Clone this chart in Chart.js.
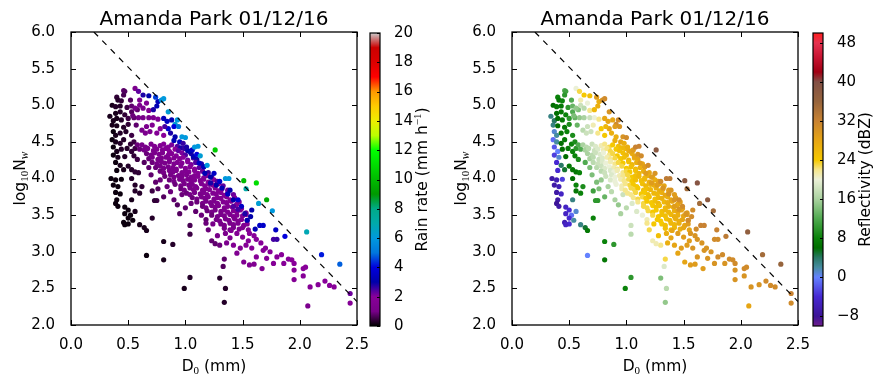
<!DOCTYPE html>
<html>
<head>
<meta charset="utf-8">
<script src="https://cdn.jsdelivr.net/npm/chart.js@4.4.1/dist/chart.umd.min.js"></script>
<style>
  html, body { margin: 0; padding: 0; background: #fff; }
  #wrap { position: relative; width: 886px; height: 386px; overflow: hidden; }
  canvas { position: absolute; top: 0; }
</style>
</head>
<body>
<div id="wrap">
  <canvas id="rainScatter" width="380" height="386" style="left:0px"></canvas>
  <canvas id="rainBar" width="83" height="386" style="left:360px"></canvas>
  <canvas id="dbzScatter" width="380" height="386" style="left:441px"></canvas>
  <canvas id="dbzBar" width="83" height="386" style="left:803px"></canvas>
</div>
<script>
// DSD samples: median drop diameter D0 (mm), log10 Nw, rain rate (mm/h), reflectivity (dBZ)
// groups: left cluster, isolated low points, below core, dense core (rows), upper band, tail, upper edge
const d0 = [
  0.46,0.47,0.46,0.40,0.41,0.44,0.52,0.36,0.39,0.43,
  0.49,0.53,0.34,0.39,0.43,0.47,0.53,0.58,0.37,0.40,
  0.44,0.50,0.55,0.36,0.40,0.46,0.50,0.37,0.39,0.43,
  0.48,0.53,0.36,0.39,0.43,0.46,0.52,0.55,0.37,0.40,
  0.44,0.49,0.53,0.56,0.37,0.41,0.47,0.55,0.58,0.39,
  0.43,0.50,0.40,0.46,0.53,0.56,0.59,0.35,0.39,0.44,
  0.53,0.37,0.41,0.56,0.62,0.39,0.43,0.56,0.60,0.71,
  0.40,0.39,0.53,0.41,0.47,0.50,0.47,0.52,0.56,0.50,
  0.46,0.50,0.54,0.47,0.60,0.64,0.66,0.71,0.75,0.73,
  0.99,1.04,1.34,1.35,1.30,0.66,0.81,0.81,0.89,2.07,1.33,1.34,1.04,1.04,
  0.78,0.84,0.81,0.90,0.97,0.87,0.93,1.00,1.05,1.09,
  1.14,1.18,0.74,0.70,0.68,0.64,0.60,0.58,0.76,0.95,
  0.62,0.65,0.70,0.73,0.78,0.81,0.85,0.88,0.93,0.96,
  0.64,0.67,0.72,0.75,0.80,0.83,0.86,0.91,0.94,0.99,1.02,
  0.66,0.70,0.73,0.77,0.80,0.85,0.88,0.92,0.97,1.00,1.05,
  0.68,0.71,0.76,0.79,0.83,0.86,0.90,0.95,0.98,1.02,1.07,1.10,
  0.71,0.75,0.79,0.82,0.86,0.90,0.93,0.97,1.02,1.05,1.09,1.14,
  0.74,0.78,0.81,0.85,0.89,0.92,0.96,1.00,1.04,1.08,1.12,1.16,
  0.78,0.81,0.86,0.89,0.92,0.97,1.00,1.03,1.08,1.11,1.15,1.20,
  0.82,0.87,0.90,0.94,0.97,1.01,1.05,1.08,1.11,1.16,1.19,1.23,
  0.86,0.90,0.95,0.98,1.02,1.05,1.08,1.13,1.16,1.20,1.25,1.28,
  0.91,0.96,0.99,1.03,1.06,1.09,1.14,1.17,1.21,1.24,1.29,1.33,
  0.96,0.99,1.04,1.07,1.10,1.15,1.18,1.21,1.26,1.29,1.32,1.37,
  1.01,1.04,1.08,1.13,1.16,1.19,1.24,1.27,1.31,1.34,1.37,1.42,
  1.06,1.10,1.14,1.17,1.20,1.25,1.28,1.31,1.36,1.39,1.43,
  1.10,1.15,1.18,1.22,1.25,1.28,1.33,1.36,1.40,1.45,1.47,
  1.15,1.18,1.23,1.26,1.29,1.34,1.37,1.41,1.44,1.49,
  1.19,1.23,1.26,1.31,1.34,1.37,1.42,1.45,1.48,1.53,
  1.23,1.28,1.31,1.34,1.39,1.42,1.45,1.50,1.53,
  1.27,1.30,1.35,1.38,1.43,1.46,1.49,1.54,
  1.31,1.34,1.39,1.42,1.46,1.51,1.54,
  1.34,1.39,1.42,1.47,1.50,1.55,
  0.56,0.59,0.63,0.68,0.60,0.60,0.66,0.63,0.68,0.56,
  0.59,0.63,0.68,0.72,0.76,0.72,0.75,0.76,0.74,0.79,
  0.81,0.85,0.81,0.84,0.88,0.93,0.91,0.90,0.94,0.85,
  0.82,0.78,0.71,0.66,0.62,0.65,0.69,0.75,0.81,0.87,
  0.91,0.97,1.00,0.95,0.90,0.54,0.57,
  1.51,1.60,1.56,1.67,1.62,1.58,1.53,1.48,1.45,1.42,
  1.39,1.36,1.30,1.26,1.23,1.62,1.70,1.74,1.71,1.68,
  1.77,1.80,1.84,1.86,1.90,1.93,1.95,1.95,1.95,2.03,
  2.03,2.05,2.09,2.16,2.22,2.26,2.30,2.44,2.44,1.55,
  1.50,1.45,1.56,1.60,1.66,1.40,1.35,1.28,1.20,1.18,
  1.24,
  1.01,1.04,1.07,1.06,1.10,1.08,1.11,1.13,1.12,1.16,
  1.19,1.17,1.22,1.25,1.26,1.22,1.27,1.32,1.30,1.35,
  1.38,1.37,1.39,1.42,1.46,1.49,1.51,1.53,1.62,1.71,
  1.64,1.76,1.54,1.52,1.57,1.61,1.65,1.68,1.79,1.87,
  1.77,1.80,2.06,2.19,2.35,1.46,1.42,1.58,0.98
];
const logNw = [
  5.20,5.19,5.14,5.11,5.07,5.06,5.07,5.00,4.98,4.99,
  4.97,4.99,4.85,4.89,4.91,4.87,4.91,4.94,4.79,4.82,
  4.80,4.82,4.83,4.73,4.72,4.70,4.74,4.64,4.59,4.62,
  4.64,4.59,4.53,4.50,4.48,4.53,4.47,4.50,4.43,4.37,
  4.40,4.41,4.37,4.41,4.32,4.29,4.30,4.31,4.26,4.22,
  4.18,4.17,4.11,4.12,4.12,4.09,4.08,4.00,3.98,3.99,
  4.00,3.91,3.89,3.91,3.89,3.81,3.79,3.83,3.80,3.83,
  3.71,3.66,3.71,3.62,3.61,3.57,3.52,3.50,3.55,3.46,
  3.40,3.38,3.43,3.37,3.37,3.33,3.29,3.46,3.70,3.70,
  2.50,2.65,2.31,2.50,2.64,2.95,2.89,3.14,3.10,2.26,2.80,2.90,3.36,3.24,
  3.98,3.89,3.75,3.71,3.78,3.82,3.64,3.60,3.66,3.55,
  3.50,3.44,3.95,4.05,4.15,4.22,4.40,4.46,3.86,3.52,
  4.46,4.43,4.47,4.44,4.45,4.47,4.43,4.46,4.44,4.42,
  4.39,4.41,4.38,4.40,4.39,4.41,4.37,4.40,4.38,4.41,4.38,
  4.34,4.32,4.35,4.33,4.35,4.32,4.34,4.31,4.35,4.32,4.34,
  4.27,4.29,4.26,4.28,4.29,4.26,4.28,4.27,4.29,4.25,4.28,4.26,
  4.22,4.20,4.23,4.21,4.23,4.20,4.22,4.21,4.23,4.19,4.22,4.20,
  4.15,4.17,4.14,4.16,4.15,4.13,4.17,4.14,4.16,4.13,4.15,4.16,
  4.10,4.08,4.11,4.09,4.11,4.08,4.10,4.09,4.11,4.07,4.10,4.08,
  4.03,4.05,4.02,4.04,4.03,4.05,4.02,4.04,4.03,4.01,4.04,4.02,
  3.98,3.96,3.99,3.97,3.99,3.96,3.98,3.97,3.99,3.95,3.98,3.96,
  3.92,3.90,3.93,3.91,3.92,3.89,3.93,3.90,3.92,3.91,3.93,3.90,
  3.86,3.84,3.87,3.85,3.87,3.84,3.86,3.85,3.87,3.83,3.86,3.84,
  3.80,3.78,3.81,3.79,3.81,3.78,3.80,3.79,3.81,3.77,3.80,3.78,
  3.74,3.72,3.75,3.73,3.75,3.72,3.74,3.73,3.75,3.71,3.74,
  3.68,3.66,3.69,3.67,3.69,3.66,3.68,3.67,3.69,3.65,3.68,
  3.62,3.60,3.63,3.61,3.63,3.60,3.62,3.61,3.63,3.59,
  3.56,3.54,3.57,3.55,3.57,3.54,3.56,3.55,3.57,3.53,
  3.50,3.48,3.51,3.49,3.51,3.48,3.50,3.49,3.51,
  3.44,3.42,3.45,3.43,3.45,3.42,3.44,3.43,
  3.38,3.36,3.39,3.37,3.39,3.36,3.38,
  3.32,3.30,3.33,3.31,3.33,3.30,
  5.23,5.19,5.14,5.13,5.07,5.00,5.03,4.96,4.93,4.96,
  4.83,4.83,4.83,4.83,4.81,4.94,4.99,5.05,5.11,5.07,
  5.09,4.91,4.82,4.78,4.80,4.80,4.74,4.71,4.71,4.68,
  4.71,4.68,4.73,4.71,4.66,4.62,4.64,4.62,4.59,4.62,
  4.57,4.57,4.56,4.50,4.52,4.86,4.73,
  2.86,2.83,2.82,2.77,2.93,3.05,3.09,3.05,2.98,3.09,
  3.19,3.12,3.09,3.11,3.15,3.17,3.05,3.00,2.91,3.02,
  2.84,2.93,2.96,2.84,2.90,2.89,2.84,2.75,2.62,2.67,
  2.77,2.79,2.52,2.55,2.60,2.54,2.52,2.43,2.30,3.15,
  3.20,3.25,3.25,3.22,3.12,3.29,3.25,3.22,3.30,3.39,
  3.38,
  4.43,4.37,4.30,4.39,4.33,4.43,4.44,4.31,4.21,4.16,
  4.18,4.07,4.02,4.07,4.39,3.94,3.91,3.87,3.96,4.00,
  4.00,3.79,3.84,3.71,3.71,3.62,3.97,3.86,3.94,3.71,
  3.66,3.56,3.43,3.52,3.48,3.31,3.36,3.36,3.30,3.21,
  3.17,3.17,3.27,2.96,2.83,3.58,3.62,3.57,4.48
];
const rainRate = [
  0.8,0.7,0.6,0.4,0.3,0.4,0.7,0.2,0.3,0.3,
  0.5,0.8,0.2,0.2,0.3,0.4,0.7,0.8,0.2,0.2,
  0.3,0.5,0.8,0.2,0.2,0.3,0.4,0.1,0.2,0.3,
  0.3,0.5,0.1,0.2,0.3,0.3,0.4,0.5,0.1,0.2,
  0.3,0.3,0.4,0.5,0.1,0.2,0.3,0.4,0.5,0.1,
  0.2,0.3,0.1,0.2,0.3,0.4,0.4,0.1,0.1,0.1,
  0.3,0.1,0.1,0.3,0.4,0.1,0.1,0.3,0.3,0.5,
  0.1,0.1,0.2,0.1,0.1,0.1,0.1,0.1,0.2,0.1,
  0.1,0.1,0.1,0.1,0.2,0.2,0.2,0.3,0.5,0.4,
  0.2,0.3,0.3,0.3,0.3,0.1,0.2,0.2,0.3,1.3,0.7,0.8,0.6,0.5,
  0.9,0.9,0.7,0.8,0.9,0.9,0.7,0.8,0.9,0.8,
  0.9,0.8,0.8,0.8,0.8,0.7,0.9,0.9,0.7,0.7,
  1.1,1.2,1.3,1.5,1.6,1.8,1.9,2.1,2.4,2.8,
  1.0,1.1,1.2,1.4,1.5,1.7,1.8,2.0,2.3,2.6,3.0,
  0.9,1.0,1.2,1.3,1.4,1.6,1.7,1.9,2.1,2.4,2.8,
  0.9,1.0,1.1,1.2,1.4,1.5,1.6,1.8,2.0,2.2,2.5,2.9,
  0.9,1.0,1.1,1.2,1.3,1.4,1.6,1.7,1.9,2.1,2.4,2.8,
  0.9,1.0,1.1,1.2,1.3,1.4,1.5,1.7,1.8,2.0,2.3,2.7,
  0.9,1.0,1.1,1.2,1.3,1.4,1.5,1.6,1.8,1.9,2.2,2.6,
  0.9,1.0,1.1,1.2,1.3,1.4,1.5,1.6,1.7,1.9,2.1,2.5,
  0.9,1.0,1.1,1.2,1.3,1.4,1.5,1.6,1.7,1.8,2.0,2.4,
  0.9,1.0,1.1,1.2,1.3,1.4,1.5,1.6,1.7,1.8,2.0,2.3,
  0.9,1.0,1.1,1.2,1.3,1.4,1.5,1.6,1.7,1.8,2.0,2.2,
  0.9,1.0,1.1,1.2,1.3,1.4,1.5,1.6,1.7,1.8,2.0,2.2,
  0.9,1.0,1.1,1.2,1.3,1.4,1.5,1.6,1.7,1.9,2.1,
  0.9,1.0,1.1,1.2,1.3,1.4,1.5,1.6,1.7,1.9,2.1,
  0.9,1.0,1.1,1.3,1.4,1.5,1.6,1.7,1.8,2.0,
  0.9,1.0,1.1,1.2,1.4,1.5,1.6,1.7,1.8,2.0,
  0.9,1.0,1.2,1.3,1.4,1.5,1.6,1.7,1.9,
  1.0,1.1,1.2,1.3,1.4,1.5,1.6,1.8,
  1.0,1.1,1.2,1.3,1.4,1.5,1.7,
  1.0,1.1,1.2,1.4,1.5,1.6,
  1.3,2.3,2.8,3.0,1.5,1.4,1.6,1.3,1.6,1.0,
  1.0,1.1,1.3,1.5,1.7,2.8,3.2,3.3,4.5,5.8,
  6.0,6.2,3.3,3.5,3.2,6.0,6.2,4.0,5.0,3.8,
  2.5,2.0,1.6,1.3,1.2,1.3,1.4,1.7,2.0,2.8,
  3.0,6.0,6.0,3.5,3.2,0.9,0.8,
  1.5,1.6,1.5,1.6,1.8,1.9,1.8,1.6,1.5,1.6,
  1.5,1.3,0.9,0.8,0.8,2.0,1.9,1.9,1.8,1.9,
  1.8,2.0,2.0,1.9,2.0,2.0,2.0,1.9,1.7,1.9,
  2.0,2.0,1.8,1.9,2.0,2.0,2.0,2.2,1.8,1.8,
  1.7,1.7,2.0,2.0,1.9,1.5,1.3,1.0,0.9,0.9,
  1.0,
  2.8,3.0,3.2,3.5,4.0,6.0,6.0,6.2,3.5,3.3,
  6.0,3.2,3.0,3.5,10.5,2.8,3.0,3.2,3.6,6.0,
  6.0,3.4,3.0,3.0,3.8,3.5,10.0,7.0,11.0,9.5,
  6.2,6.0,3.2,2.8,3.0,3.2,3.5,3.6,3.5,4.0,
  2.5,2.6,6.8,4.2,4.8,2.5,2.4,3.0,2.6
];
const reflectivity = [
  12,11,10,8,7,8,12,6,7,7,
  10,13,3,6,7,8,12,14,4,6,
  7,10,13,3,6,7,9,1,2,7,
  8,9,-1,2,6,7,8,9,-2,0,
  6,7,8,10,-3,1,6,8,9,-4,
  4,7,-4,5,7,7,8,-7,-6,-3,
  6,-7,-6,8,9,-7,-5,7,8,11,
  -7,-8,3,-7,-5,-4,-5,-1,1,-4,
  -6,-4,2,-5,3,5,7,8,10,10,
  8,10,15,17,14,0,7,8,10,28,19,23,18,17,
  15,16,13,16,18,17,15,17,19,19,
  20,21,14,14,14,12,12,12,14,16,
  16,17,18,19,21,22,23,24,25,26,
  16,17,18,19,21,22,23,24,25,26,27,
  16,17,18,19,20,22,23,24,25,26,27,
  16,17,18,19,21,22,23,24,25,26,27,28,
  17,18,19,20,21,22,23,24,25,26,27,28,
  17,18,19,20,21,22,23,24,25,26,27,28,
  17,18,19,20,21,22,23,24,25,26,27,28,
  18,19,20,21,22,23,24,25,26,26,27,28,
  19,20,21,22,23,24,25,25,26,27,27,28,
  20,21,22,23,24,24,25,26,26,27,28,28,
  21,22,23,23,24,25,25,26,27,27,28,29,
  22,22,23,24,24,25,26,26,27,28,28,29,
  22,23,23,24,25,25,26,27,27,28,29,
  22,23,24,24,25,26,26,27,28,28,29,
  23,23,24,25,25,26,27,27,28,29,
  23,24,24,25,26,26,27,28,28,29,
  23,24,25,25,26,27,27,28,29,
  24,24,25,26,27,27,28,29,
  24,25,26,26,27,28,29,
  25,25,26,27,28,28,
  20,23,24,25,21,18,20,17,22,15,
  15,16,18,20,22,26,27,27,29,30,
  31,30,28,28,28,31,31,29,30,28,
  26,24,21,18,17,18,18,22,24,27,
  27,30,31,28,27,14,13,
  28,29,29,29,30,30,29,29,28,28,
  28,27,22,21,21,30,30,30,30,30,
  30,31,31,30,31,31,31,30,30,30,
  31,31,30,30,31,31,31,32,31,29,
  29,29,30,30,30,28,27,25,23,22,
  24,
  27,28,28,29,30,32,32,31,29,29,
  31,29,29,30,38,29,29,30,31,33,
  33,30,30,30,31,31,38,35,39,38,
  35,35,31,30,31,31,32,32,32,33,
  31,31,37,35,36,30,29,31,27
];

// dashed reference line
const lineD0 = [0.2, 2.5];
const lineNw = [6.0, 2.32];

// colour bar ticks
const rainTicks = [0, 2, 4, 6, 8, 10, 12, 14, 16, 18, 20];
const dbzTicks = [-8, 0, 8, 16, 24, 32, 40, 48];

// colormaps: [value, r, g, b]
const rainCmap = [
  [0, 0, 0, 0], [1, 119, 0, 136], [2, 136, 0, 153], [3, 0, 0, 170], [4, 0, 0, 221],
  [5, 0, 119, 221], [6, 0, 153, 221], [7, 0, 170, 170], [8, 0, 170, 136], [9, 0, 153, 0],
  [10, 0, 187, 0], [11, 0, 221, 0], [12, 0, 255, 0], [13, 187, 255, 0], [14, 238, 238, 0],
  [15, 255, 204, 0], [16, 255, 153, 0], [17, 255, 0, 0], [18, 221, 0, 0], [19, 204, 0, 0],
  [20, 204, 204, 204]
];
const dbzCmap = [
  [-10, 110, 30, 140], [-8, 60, 20, 150], [-4, 70, 40, 210], [0, 100, 130, 255],
  [2, 70, 140, 160], [4, 40, 120, 100], [6, 0, 110, 0], [8, 10, 130, 10],
  [12, 80, 170, 80], [16, 170, 210, 160], [20, 235, 240, 215], [22, 245, 230, 140],
  [24, 245, 200, 0], [28, 230, 165, 20], [32, 200, 130, 50], [36, 150, 100, 60],
  [40, 130, 80, 70], [42, 160, 0, 20], [45, 200, 20, 50], [48, 230, 50, 80], [50, 255, 30, 30]
];

function cmapColor(stops, v) {
  if (v <= stops[0][0]) return 'rgb(' + stops[0].slice(1).join(',') + ')';
  for (let i = 1; i < stops.length; i++) {
    if (v <= stops[i][0]) {
      const a = stops[i - 1], b = stops[i];
      const f = (v - a[0]) / (b[0] - a[0]);
      const c = [1, 2, 3].map(k => Math.round(a[k] + f * (b[k] - a[k])));
      return 'rgb(' + c.join(',') + ')';
    }
  }
  return 'rgb(' + stops[stops.length - 1].slice(1).join(',') + ')';
}

Chart.defaults.font.family = '"DejaVu Sans", sans-serif';
Chart.defaults.color = '#000';

const tickFont = { size: 15, family: '"DejaVu Sans", sans-serif' };

// draw text made of pieces of different size / offset (sub- and superscripts)
function drawRich(ctx, parts, x, y) {
  let w = 0;
  parts.forEach(p => { ctx.font = p.font; w += ctx.measureText(p.t).width; });
  let cx = x - w / 2;
  parts.forEach(p => {
    ctx.font = p.font;
    ctx.fillText(p.t, cx, y + (p.dy || 0));
    cx += ctx.measureText(p.t).width;
  });
}

const SANS = '15.5px "DejaVu Sans"';
const SUB = '11px "Liberation Serif"';
const SUBI = 'italic 11.5px "Liberation Serif"';

const panelFrame = {
  id: 'panelFrame',
  afterDatasetsDraw(chart) {
    const { ctx, chartArea: a, scales: { x, y } } = chart;
    ctx.save();
    ctx.strokeStyle = '#000';
    ctx.lineWidth = 1;
    ctx.beginPath();
    x.ticks.forEach(t => {
      const px = Math.round(x.getPixelForValue(t.value)) + 0.5;
      ctx.moveTo(px, a.bottom); ctx.lineTo(px, a.bottom - 5);
      ctx.moveTo(px, a.top); ctx.lineTo(px, a.top + 5);
    });
    y.ticks.forEach(t => {
      const py = Math.round(y.getPixelForValue(t.value)) + 0.5;
      ctx.moveTo(a.left, py); ctx.lineTo(a.left + 5, py);
      ctx.moveTo(a.right, py); ctx.lineTo(a.right - 5, py);
    });
    ctx.stroke();
    ctx.lineWidth = 1.3;
    ctx.strokeRect(a.left, a.top, a.right - a.left, a.bottom - a.top);
    ctx.restore();
  },
  afterDraw(chart, args, opts) {
    const { ctx, chartArea: a } = chart;
    const cx = (a.left + a.right) / 2;
    ctx.save();
    ctx.fillStyle = '#000';
    ctx.textBaseline = 'alphabetic';
    ctx.textAlign = 'left';
    drawRich(ctx, [{ t: opts.title, font: '20px "DejaVu Sans"' }], cx, 25);
    drawRich(ctx, [
      { t: 'D', font: SANS }, { t: '0', font: SUB, dy: 3 }, { t: ' (mm)', font: SANS }
    ], cx, 371);
    ctx.translate(25, (a.top + a.bottom) / 2);
    ctx.rotate(-Math.PI / 2);
    drawRich(ctx, [
      { t: 'log', font: SANS }, { t: '10', font: SUB, dy: 3 },
      { t: 'N', font: SANS }, { t: 'w', font: SUBI, dy: 3 }
    ], 0, 0);
    ctx.restore();
  }
};

const colorStrip = {
  id: 'colorStrip',
  afterDraw(chart, args, opts) {
    const { ctx, chartArea: a, scales: { y } } = chart;
    ctx.save();
    const g = ctx.createLinearGradient(0, a.bottom, 0, a.top);
    const span = y.max - y.min;
    opts.cmap.forEach(s => g.addColorStop((s[0] - y.min) / span, cmapColor(opts.cmap, s[0])));
    ctx.fillStyle = g;
    ctx.fillRect(a.left, a.top, a.right - a.left, a.bottom - a.top);
    ctx.strokeStyle = '#000';
    ctx.lineWidth = 1;
    ctx.beginPath();
    y.ticks.forEach(t => {
      const py = Math.round(y.getPixelForValue(t.value)) + 0.5;
      ctx.moveTo(a.right, py); ctx.lineTo(a.right - 3, py);
    });
    ctx.stroke();
    ctx.lineWidth = 1.2;
    ctx.strokeRect(a.left, a.top, a.right - a.left, a.bottom - a.top);
    ctx.fillStyle = '#000';
    ctx.textBaseline = 'alphabetic';
    ctx.translate(67, (a.top + a.bottom) / 2);
    ctx.rotate(-Math.PI / 2);
    drawRich(ctx, opts.label, 0, 0);
    ctx.restore();
  }
};

function scatterConfig(values, cmap, title) {
  return {
    type: 'scatter',
    data: {
      datasets: [
        {
          data: lineD0.map((x, i) => ({ x, y: lineNw[i] })),
          showLine: true, borderColor: '#000', borderWidth: 1.2, borderDash: [6, 6],
          pointRadius: 0, fill: false
        },
        {
          data: d0.map((x, i) => ({ x, y: logNw[i] })),
          pointRadius: 2.6,
          pointBorderWidth: 0,
          pointBackgroundColor: values.map(v => cmapColor(cmap, v))
        }
      ]
    },
    options: {
      responsive: false,
      animation: false,
      events: [],
      layout: { padding: { top: 32, right: 23, left: 0, bottom: 0 } },
      plugins: { legend: { display: false }, tooltip: { enabled: false }, panelFrame: { title } },
      scales: {
        x: {
          type: 'linear', min: 0, max: 2.5,
          afterFit: s => { s.height = 61; },
          grid: { display: false }, border: { display: false },
          ticks: { stepSize: 0.5, font: tickFont, color: '#000', padding: 3, maxRotation: 0,
                   callback: v => v.toFixed(1) }
        },
        y: {
          min: 2, max: 6,
          afterFit: s => { s.width = 71; },
          grid: { display: false }, border: { display: false },
          ticks: { stepSize: 0.5, font: tickFont, color: '#000', padding: 8,
                   callback: v => v.toFixed(1) }
        }
      }
    },
    plugins: [panelFrame]
  };
}

function barConfig(cmap, ticks, label) {
  return {
    type: 'scatter',
    data: { datasets: [] },
    options: {
      responsive: false,
      animation: false,
      events: [],
      layout: { padding: { top: 33, bottom: 60, left: 10, right: 0 } },
      plugins: { legend: { display: false }, tooltip: { enabled: false }, colorStrip: { cmap, label } },
      scales: {
        x: { display: false, min: 0, max: 1 },
        y: {
          position: 'right',
          min: cmap[0][0], max: cmap[cmap.length - 1][0],
          afterBuildTicks: s => { s.ticks = ticks.map(v => ({ value: v })); },
          afterFit: s => { s.width = 63; },
          grid: { display: false }, border: { display: false },
          ticks: { font: tickFont, color: '#000', padding: 6,
                   callback: v => (v < 0 ? '\u2212' + Math.abs(v) : String(v)) }
        }
      }
    },
    plugins: [colorStrip]
  };
}

const TITLE = 'Amanda Park 01/12/16';

new Chart(document.getElementById('rainScatter'), scatterConfig(rainRate, rainCmap, TITLE));
new Chart(document.getElementById('dbzScatter'), scatterConfig(reflectivity, dbzCmap, TITLE));
new Chart(document.getElementById('rainBar'), barConfig(rainCmap, rainTicks, [
  { t: 'Rain rate (mm h', font: SANS },
  { t: '\u22121', font: SUB, dy: -6 },
  { t: ')', font: SANS }
]));
new Chart(document.getElementById('dbzBar'), barConfig(dbzCmap, dbzTicks, [
  { t: 'Reflectivity (dBZ)', font: SANS }
]));
</script>
</body>
</html>
